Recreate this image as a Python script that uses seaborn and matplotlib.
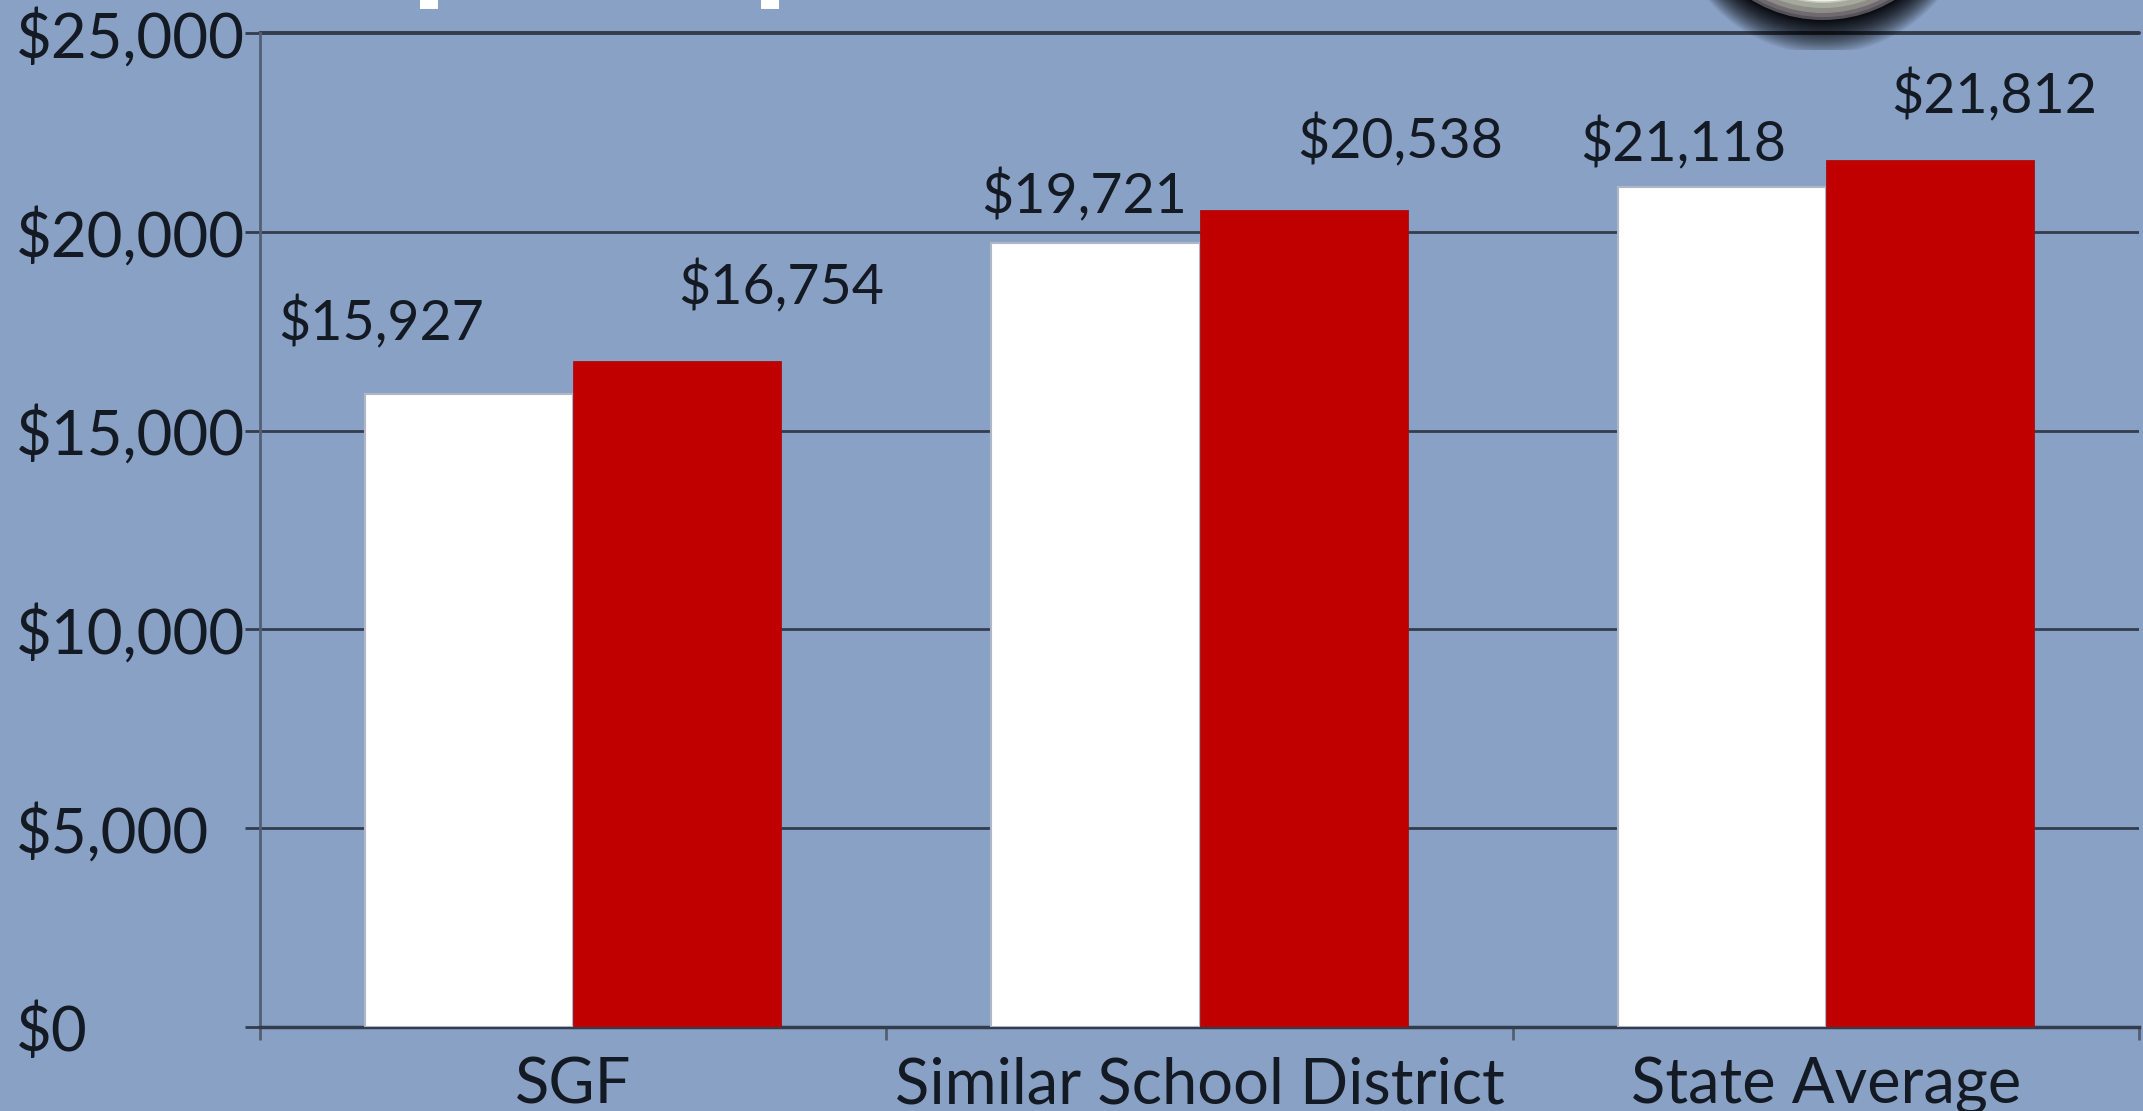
import matplotlib
matplotlib.use('Agg')
import matplotlib.pyplot as plt
from matplotlib.patches import Circle, Ellipse, Rectangle
import numpy as np
import pandas as pd
import seaborn as sns

categories = ['SGF', 'Similar School District', 'State Average']
white_values = [15927, 19721, 21118]
red_values = [16754, 20538, 21812]
y_ticks = [0, 5000, 10000, 15000, 20000, 25000]

# label offsets from the bar top, in pixels
white_label_dx = [-87, -11, -38]
white_label_dy = [70, 47, 43]
red_label_dx = [103, 96, 64]
red_label_dy = [74, 69, 63]

BG = '#8aa1c6'
INK = '#141a24'
GRID = '#333c4c'
AXIS = '#535f75'

df = pd.DataFrame({
    'category': categories * 2,
    'series': ['white'] * 3 + ['red'] * 3,
    'value': white_values + red_values,
})

sns.set_style('white')
plt.rcParams['font.family'] = ['Lato', 'DejaVu Sans']

fig = plt.figure(figsize=(21.43, 11.11), dpi=100, facecolor=BG)
ax = fig.add_axes([260 / 2143, 1 - 1027 / 1111, 1879 / 2143, 994 / 1111], facecolor=BG)

sns.barplot(df, x='category', y='value', hue='series', palette={'white': '#ffffff', 'red': '#c00000'},
            width=0.665, gap=0, saturation=1, legend=False, ax=ax, zorder=3)

for bars, edge, lw in zip(ax.containers, ['#aeb6c8', '#a51015'], [1.5, 0.6]):
    for bar in bars:
        bar.set_edgecolor(edge)
        bar.set_linewidth(lw)

ax.set_xlim(-0.5, 2.5)
ax.set_ylim(0, 25000)
ax.set_yticks(y_ticks)
ax.set_yticklabels([f'${v:,}' for v in y_ticks], fontsize=44.5, color=INK, ha='left')
ax.tick_params(axis='y', left=True, pad=165, length=11, width=2, color=GRID)
ax.set_xticks([-0.5, 0.5, 1.5, 2.5], minor=True)
ax.tick_params(axis='x', which='minor', bottom=True, length=9, width=2, color=AXIS)
ax.tick_params(axis='x', which='major', bottom=False, pad=18, labelsize=45.5, labelcolor=INK)
ax.set_xlabel('')
ax.set_ylabel('')
ax.grid(axis='y', color=GRID, linewidth=2, zorder=1)
ax.set_axisbelow(True)
top_line = ax.get_ygridlines()[-1]
top_line.set_clip_on(False)
top_line.set_linewidth(2.8)
for side in ['top', 'right']:
    ax.spines[side].set_visible(False)
ax.spines['left'].set_color(AXIS)
ax.spines['left'].set_linewidth(2)
ax.spines['bottom'].set_color(GRID)
ax.spines['bottom'].set_linewidth(2.5)

for i, (w, r) in enumerate(zip(white_values, red_values)):
    ax.annotate(f'${w:,}', (i - 0.167, w), xytext=(white_label_dx[i], white_label_dy[i]),
                textcoords='offset pixels', ha='center', va='center', fontsize=40, color=INK)
    ax.annotate(f'${r:,}', (i + 0.167, r), xytext=(red_label_dx[i], red_label_dy[i]),
                textcoords='offset pixels', ha='center', va='center', fontsize=40, color=INK)

# cropped slide decoration along the top edge, in image pixels
deco = fig.add_axes([0, 0, 1, 1], facecolor='none')
deco.set_xlim(0, 2143)
deco.set_ylim(1111, 0)
deco.axis('off')

for x in [420, 761]:
    deco.add_patch(Rectangle((x, 0), 18, 9, facecolor='white', edgecolor='none'))

shadow_clip = Rectangle((0, 0), 2143, 50, transform=deco.transData)
for t in np.linspace(1, 0, 40) ** 1.6:
    glow = Ellipse((1823, -118), 2 * (138 + 20 * t), 2 * (138 + 34 * t), facecolor='black', edgecolor='none', alpha=0.055)
    deco.add_patch(glow)
    glow.set_clip_path(shadow_clip)

for radius, colour in [(138, '#55525a'), (135, '#6e6a70'), (131, '#8d8c86'), (126, '#a5a89c'), (121, '#c4c6ba'), (119.5, '#f0f0ea')]:
    deco.add_patch(Circle((1823, -118), radius, facecolor=colour, edgecolor='none'))

fig.savefig('out.png', dpi=100, facecolor=BG)
